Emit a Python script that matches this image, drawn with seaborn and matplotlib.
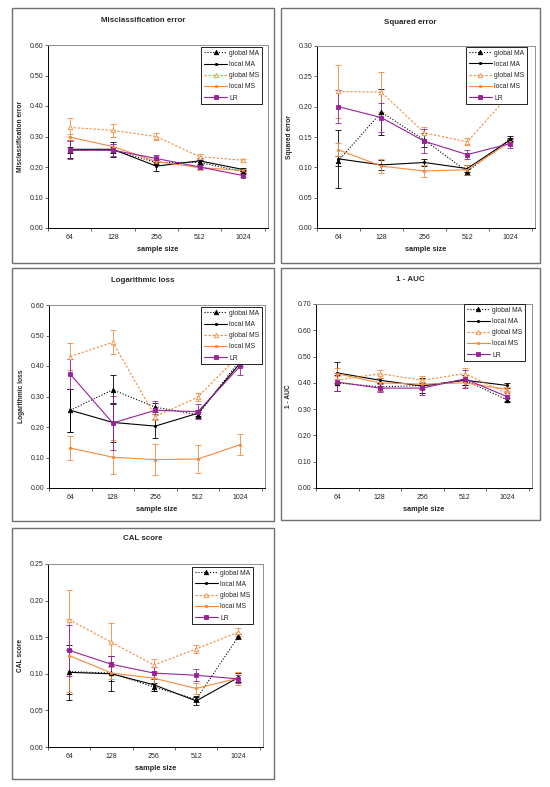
import matplotlib
matplotlib.use("Agg")
import matplotlib.pyplot as plt
from matplotlib.patches import Rectangle
import seaborn as sns
import pandas as pd

# sample sizes on the x axis
sizes = ['64', '128', '256', '512', '1024']
models = ['global MA', 'local MA', 'global MS', 'local MS', 'LR']

# values, one row per model (same order as models)
misclass_mean = [[0.255, 0.255, 0.215, 0.215, 0.185],
                 [0.258, 0.258, 0.203, 0.220, 0.192],
                 [0.330, 0.320, 0.300, 0.234, 0.222],
                 [0.298, 0.267, 0.218, 0.198, 0.189],
                 [0.255, 0.255, 0.228, 0.200, 0.172]]
misclass_err = [[0.010, 0.010, 0.008, 0.008, 0.005],
                [0.030, 0.025, 0.015, 0.010, 0.005],
                [0.030, 0.020, 0.013, 0.007, 0.005],
                [0.010, 0.010, 0.007, 0.007, 0.005],
                [0.030, 0.020, 0.010, 0.008, 0.005]]

squared_mean = [[0.111, 0.191, 0.145, 0.093, 0.147],
                [0.114, 0.104, 0.108, 0.098, 0.145],
                [0.225, 0.224, 0.157, 0.142, 0.221],
                [0.129, 0.102, 0.094, 0.096, 0.142],
                [0.200, 0.182, 0.143, 0.121, 0.139]]
squared_err = [[0.008, 0.038, 0.012, 0.005, 0.004],
               [0.048, 0.008, 0.006, 0.006, 0.004],
               [0.044, 0.033, 0.010, 0.006, 0.006],
               [0.011, 0.012, 0.010, 0.008, 0.005],
               [0.027, 0.024, 0.020, 0.008, 0.007]]

logloss_mean = [[0.255, 0.322, 0.265, 0.240, 0.420],
                [0.255, 0.215, 0.203, 0.245, 0.410],
                [0.431, 0.478, 0.234, 0.298, 0.440],
                [0.131, 0.101, 0.093, 0.095, 0.142],
                [0.373, 0.213, 0.255, 0.250, 0.400]]
logloss_err = [[0.070, 0.047, 0.015, 0.010, 0.010],
               [0.070, 0.065, 0.040, 0.010, 0.010],
               [0.045, 0.040, 0.010, 0.012, 0.015],
               [0.040, 0.055, 0.050, 0.045, 0.035],
               [0.050, 0.090, 0.030, 0.025, 0.030]]

auc_mean = [[0.400, 0.385, 0.390, 0.410, 0.335],
            [0.438, 0.410, 0.388, 0.410, 0.390],
            [0.410, 0.435, 0.410, 0.435, 0.360],
            [0.435, 0.400, 0.395, 0.400, 0.375],
            [0.403, 0.380, 0.380, 0.415, 0.347]]
auc_err = [[0.030, 0.015, 0.030, 0.020, 0.008],
           [0.040, 0.010, 0.010, 0.020, 0.008],
           [0.015, 0.015, 0.015, 0.020, 0.008],
           [0.020, 0.030, 0.020, 0.015, 0.010],
           [0.035, 0.015, 0.025, 0.035, 0.015]]

cal_mean = [[0.103, 0.101, 0.082, 0.065, 0.151],
            [0.102, 0.100, 0.085, 0.063, 0.095],
            [0.174, 0.143, 0.112, 0.134, 0.157],
            [0.125, 0.101, 0.094, 0.080, 0.094],
            [0.132, 0.113, 0.101, 0.098, 0.093]]
cal_err = [[0.030, 0.024, 0.006, 0.004, 0.004],
           [0.038, 0.010, 0.008, 0.005, 0.006],
           [0.040, 0.027, 0.008, 0.005, 0.006],
           [0.050, 0.008, 0.008, 0.008, 0.009],
           [0.035, 0.012, 0.008, 0.008, 0.006]]

titles = ['Misclassification error', 'Squared error', 'Logarithmic loss', '1 - AUC', 'CAL score']
means = [misclass_mean, squared_mean, logloss_mean, auc_mean, cal_mean]
errs = [misclass_err, squared_err, logloss_err, auc_err, cal_err]
ymax = [0.6, 0.3, 0.6, 0.7, 0.25]
ystep = [0.1, 0.05, 0.1, 0.1, 0.05]

sns.set_style("white")
plt.rcParams['font.family'] = ['Liberation Sans', 'DejaVu Sans']

orange = '#F68A3C'
purple = '#992299'
styles = {
    'global MA': dict(color='black', linestyle=(0, (1, 1.6)), marker='^', ms=3.2, mfc='black'),
    'local MA': dict(color='black', linestyle='-', marker='o', ms=1.6, mfc='black'),
    'global MS': dict(color=orange, linestyle=(0, (2, 1.6)), marker='^', ms=3.2, mfc='white'),
    'local MS': dict(color=orange, linestyle='-', marker='s', ms=1.4, mfc=orange),
    'LR': dict(color=purple, linestyle='-', marker='s', ms=2.2, mfc=purple),
}

W, H = 550, 787
fig = plt.figure(figsize=(W / 100, H / 100), dpi=100)

# panel frames and plot areas in pixels (left, top, right, bottom)
panels = [(12, 8, 274, 263), (281, 8, 540, 263), (12, 268, 274, 521),
          (281, 268, 540, 520), (12, 528, 274, 779)]
plots = [(48, 45, 268, 228), (317, 46, 535, 228), (49, 305, 265, 488),
         (316, 304, 532, 488), (48, 564, 263, 747)]
title_y = [21, 22, 281, 280, 539]
legend_anchor = [(0.973, 0.989), (0.963, 0.995), (0.986, 0.989),
                 (0.967, 1.0), (0.953, 0.984)]

for i in range(5):
    l, t, r, b = panels[i]
    fig.patches.append(Rectangle((l / W, 1 - b / H), (r - l) / W, (b - t) / H,
                                 transform=fig.transFigure, fill=False,
                                 edgecolor='#707070', linewidth=1.0))
    fig.text((l + r) / 2 / W, 1 - title_y[i] / H, titles[i], ha='center',
             va='center', fontsize=5.7, fontweight='bold')

    pl, pt, pr, pb = plots[i]
    ax = fig.add_axes([pl / W, 1 - pb / H, (pr - pl) / W, (pb - pt) / H])

    for j, name in enumerate(models):
        st = styles[name]
        df = pd.DataFrame({'pos': range(5), 'value': means[i][j]})
        ax.errorbar(df['pos'], df['value'], yerr=errs[i][j], fmt='none',
                    ecolor=st['color'], elinewidth=0.6, capsize=2.2,
                    capthick=0.6, zorder=2)
        sns.lineplot(data=df, x='pos', y='value', ax=ax, errorbar=None,
                     color=st['color'], linestyle=st['linestyle'],
                     linewidth=0.8, marker=st['marker'], markersize=st['ms'],
                     markerfacecolor=st['mfc'], markeredgecolor=st['color'],
                     markeredgewidth=0.6, label=name, zorder=3)

    ax.set_xlim(-0.48, 4.58)
    ax.set_ylim(0, ymax[i])
    n = int(round(ymax[i] / ystep[i]))
    ax.set_yticks([k * ystep[i] for k in range(n + 1)])
    ax.set_yticklabels(['%.2f' % (k * ystep[i]) for k in range(n + 1)])
    ax.set_xticks(range(5))
    ax.set_xticklabels(sizes)
    ax.set_xticks([k - 0.5 for k in range(6)], minor=True)
    ax.tick_params(axis='x', which='major', length=0, pad=4.5, labelsize=5)
    ax.tick_params(axis='x', which='minor', length=2, width=0.5, direction='out')
    ax.tick_params(axis='y', length=2, width=0.5, pad=1.5, labelsize=5,
                   direction='out', left=True)
    ax.tick_params(axis='x', bottom=True, which='minor')

    for side in ['top', 'right']:
        ax.spines[side].set_color('#909090')
        ax.spines[side].set_linewidth(0.7)
    for side in ['left', 'bottom']:
        ax.spines[side].set_color('black')
        ax.spines[side].set_linewidth(0.7)

    ax.set_xlabel('sample size', fontsize=5.3, fontweight='bold')
    ax.xaxis.set_label_coords(0.5, -0.1)
    ax.set_ylabel(titles[i], fontsize=4.8, fontweight='bold')
    ax.yaxis.set_label_coords(-0.11, 0.5)

    leg = ax.legend(loc='upper right', bbox_to_anchor=legend_anchor[i],
                    borderaxespad=0, fontsize=4.9, frameon=True,
                    fancybox=False, framealpha=1, edgecolor='black',
                    handlelength=3.4, labelspacing=0.62, borderpad=0.4,
                    handletextpad=0.3)
    leg.get_frame().set_linewidth(0.6)
    leg.set_zorder(10)

fig.savefig('out.png', dpi=100)
